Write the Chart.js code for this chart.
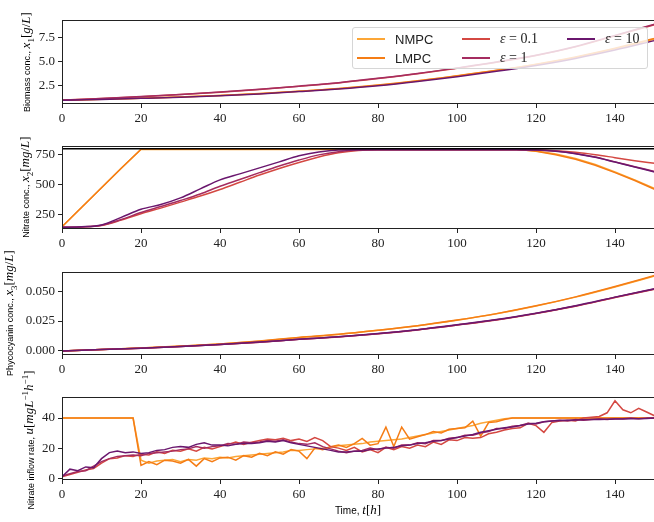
<!DOCTYPE html>
<html lang="en">
<head>
<meta charset="UTF-8">
<title>NMPC / LMPC comparison</title>
<script src="https://cdn.jsdelivr.net/npm/chart.js"></script>
<style>
  html, body { margin: 0; padding: 0; background: #fff; }
  #wrap { position: relative; width: 654px; height: 522px; overflow: hidden; }
  #wrap canvas { position: absolute; left: 0; }
  .ylab { position: absolute; white-space: nowrap; transform: translate(-50%, -50%) rotate(-90deg);
          font-family: "Liberation Sans", Arial, sans-serif; font-size: 9px; color: #000; }
  .m { font-family: "Liberation Serif", serif; font-size: 13px; }
  .m i { font-style: italic; }
  .m sub, .m sup { font-size: 9px; }
  #xlab { position: absolute; left: 358px; top: 510px; transform: translate(-50%, -50%);
          font-family: "Liberation Sans", Arial, sans-serif; font-size: 10px; white-space: nowrap; }
  #legend { position: absolute; left: 352px; top: 27px; width: 296px; height: 42px; box-sizing: border-box;
            background: rgba(255,255,255,0.8); border: 1px solid #d6d6d6; border-radius: 3px; }
  .li { position: absolute; height: 16px; display: flex; align-items: center;
        font-family: "Liberation Sans", Arial, sans-serif; font-size: 13px; color: #222; white-space: nowrap; }
  .li span.sw { display: inline-block; width: 28px; height: 2px; margin-right: 10px; }
  .li .m { font-size: 14px; }
</style>
</head>
<body>
<div id="wrap">
  <canvas id="c1" width="660" height="110" style="top:19px"></canvas>
  <canvas id="c2" width="660" height="109" style="top:145px"></canvas>
  <canvas id="c3" width="660" height="109" style="top:271px"></canvas>
  <canvas id="c4" width="660" height="109" style="top:396px"></canvas>

  <div class="ylab" style="left:27px; top:62px">Biomass conc., <span class="m"><i>x</i><sub>1</sub>[<i>g</i>/<i>L</i>]</span></div>
  <div class="ylab" style="left:26px; top:187px">Nitrate conc., <span class="m"><i>x</i><sub>2</sub>[<i>mg</i>/<i>L</i>]</span></div>
  <div class="ylab" style="left:10px; top:313px">Phycocyanin conc., <span class="m"><i>x</i><sub>3</sub>[<i>mg</i>/<i>L</i>]</span></div>
  <div class="ylab" style="left:29px; top:440px">Nitrate inflow rate, <span class="m"><i>u</i>[<i>mgL</i><sup>&minus;1</sup><i>h</i><sup>&minus;1</sup>]</span></div>
  <div id="xlab">Time, <span class="m"><i>t</i>[<i>h</i>]</span></div>

  <div id="legend">
    <div class="li" style="left:4px; top:3px"><span class="sw" style="background:#fca636"></span>NMPC</div>
    <div class="li" style="left:4px; top:22px"><span class="sw" style="background:#f57d15"></span>LMPC</div>
    <div class="li" style="left:109px; top:3px"><span class="sw" style="background:#d44842"></span><span class="m"><i>&epsilon;</i> = 0.1</span></div>
    <div class="li" style="left:109px; top:22px"><span class="sw" style="background:#a52c60"></span><span class="m"><i>&epsilon;</i> = 1</span></div>
    <div class="li" style="left:214px; top:3px"><span class="sw" style="background:#6a176e"></span><span class="m"><i>&epsilon;</i> = 10</span></div>
  </div>
</div>

<script>
// ---- data ----
const seriesNames = ['NMPC', 'LMPC', 'ε = 0.1', 'ε = 1', 'ε = 10'];
const seriesColors = ['#fca636', '#f57d15', '#d44842', '#a52c60', '#6a176e'];

const xTicks = [0, 20, 40, 60, 80, 100, 120, 140];

// biomass, sampled every 10 h
const t10 = [0, 10, 20, 30, 40, 50, 60, 70, 80, 90, 100, 110, 120, 130, 140, 150];
const x1NMPC = [1.0, 1.09, 1.2, 1.33, 1.48, 1.68, 1.92, 2.2, 2.55, 3.0, 3.52, 4.08, 4.72, 5.45, 6.35, 7.35];
const x1LMPC = [1.0, 1.09, 1.2, 1.33, 1.49, 1.69, 1.93, 2.21, 2.57, 3.02, 3.55, 4.11, 4.75, 5.5, 6.4, 7.42];
const x1Eps01 = [1.0, 1.17, 1.36, 1.58, 1.83, 2.12, 2.45, 2.8, 3.25, 3.75, 4.33, 4.95, 5.65, 6.55, 7.7, 8.85];
const x1Eps1 = [1.0, 1.17, 1.37, 1.59, 1.84, 2.13, 2.46, 2.82, 3.27, 3.77, 4.36, 4.98, 5.68, 6.6, 7.75, 8.9];
const x1Eps10 = [1.0, 1.08, 1.19, 1.31, 1.46, 1.65, 1.89, 2.16, 2.5, 2.94, 3.45, 4.0, 4.62, 5.35, 6.22, 7.2];
const y1Ticks = [2.5, 5.0, 7.5];

// nitrate, sampled every 5 h
const t5 = [0, 5, 10, 15, 20, 25, 30, 35, 40, 45, 50, 55, 60, 65, 70, 75, 80, 85, 90, 95, 100,
            105, 110, 115, 120, 125, 130, 135, 140, 145, 150];
const x2NMPC = [150, 312, 475, 637, 793, 793, 793, 793, 793, 793, 793, 793, 793, 793, 793, 793, 793, 793, 793, 793, 793,
                793, 793, 793, 780, 755, 718, 668, 606, 540, 468];
const x2LMPC = [150, 312, 475, 637, 795, 795, 795, 795, 795, 795, 795, 795, 795, 795, 795, 795, 795, 795, 795, 795, 795,
                795, 795, 795, 778, 750, 712, 662, 600, 535, 462];
const x2Eps01 = [145, 148, 160, 205, 258, 305, 355, 405, 460, 520, 580, 635, 685, 730, 765, 785, 790, 790, 790, 790, 790,
                 790, 790, 790, 788, 782, 770, 750, 725, 700, 678];
const x2Eps1 = [145, 148, 162, 210, 268, 318, 368, 422, 487, 543, 600, 655, 705, 748, 775, 788, 790, 790, 790, 790, 790,
                790, 790, 790, 788, 780, 760, 730, 690, 650, 610];
const x2Eps10 = [145, 149, 165, 228, 295, 335, 390, 465, 540, 590, 640, 690, 740, 772, 788, 790, 790, 790, 790, 790, 790,
                 790, 790, 790, 788, 778, 758, 728, 688, 648, 605];
const x2Limit = 800;
const y2Ticks = [250, 500, 750];

// phycocyanin, sampled every 10 h
const x3NMPC = [0, 0.0012, 0.0025, 0.004, 0.0058, 0.0082, 0.0112, 0.0138, 0.0172, 0.021, 0.0256, 0.031, 0.0375, 0.045, 0.0535, 0.0626];
const x3LMPC = [0, 0.0012, 0.0025, 0.0041, 0.0059, 0.0083, 0.0113, 0.0139, 0.0173, 0.0211, 0.0258, 0.0312, 0.0377, 0.0452, 0.0538, 0.063];
const x3Eps01 = [0, 0.0011, 0.0023, 0.0037, 0.0053, 0.0073, 0.0097, 0.0117, 0.0143, 0.0176, 0.0216, 0.0259, 0.0313, 0.0374, 0.0446, 0.0515];
const x3Eps1 = [0, 0.0011, 0.0023, 0.0037, 0.0053, 0.0073, 0.0097, 0.0118, 0.0144, 0.0177, 0.0217, 0.026, 0.0314, 0.0375, 0.0448, 0.0518];
const x3Eps10 = [0, 0.0011, 0.0023, 0.0037, 0.0054, 0.0074, 0.0098, 0.0118, 0.0145, 0.0178, 0.0218, 0.0262, 0.0316, 0.0378, 0.045, 0.052];
const y3Ticks = [0.000, 0.025, 0.050];

// nitrate inflow rate, sampled every 2 h
const t2 = [0, 2, 4, 6, 8, 10, 12, 14, 16, 18, 20, 22, 24, 26, 28, 30, 32, 34, 36, 38,
            40, 42, 44, 46, 48, 50, 52, 54, 56, 58, 60, 62, 64, 66, 68, 70, 72, 74, 76, 78,
            80, 82, 84, 86, 88, 90, 92, 94, 96, 98, 100, 102, 104, 106, 108, 110, 112, 114, 116, 118,
            120, 122, 124, 126, 128, 130, 132, 134, 136, 138, 140, 142, 144, 146, 148, 150];
const uNMPC = [40, 40, 40, 40, 40, 40, 40, 40, 40, 40,
               12, 10, 11.5, 12, 12.5, 11, 12.5, 12, 13.5, 13,
               14, 13.5, 14.5, 15, 15.5, 16, 16.5, 17, 17.5, 18.5,
               18.5, 19, 19.5, 20, 20.5, 21.5, 22, 22.5, 23, 24,
               24.5, 25, 25.5, 26, 27, 28, 29, 30, 31, 32,
               33, 34, 35, 36.5, 37.5, 38.5, 39.5, 40, 40, 40,
               40, 40, 40, 40, 40, 40, 40, 40, 40, 40,
               40, 40, 40, 40, 40, 40];
const uLMPC = [40, 40, 40, 40, 40, 40, 40, 40, 40, 40,
               8.5, 11, 9, 12, 11.5, 10, 12.5, 8, 13, 11,
               13.5, 14, 12, 15, 14, 16.5, 15, 17.5, 16, 19,
               18, 13, 20, 19, 21, 22, 20.5, 23, 26.5, 22,
               23, 34, 21, 34, 26, 27.5, 29, 31, 30, 32.5,
               33, 33.5, 38, 28, 37, 37.5, 39, 40, 40, 40,
               40, 40, 40, 40, 40, 40, 40, 40, 40, 40,
               40, 40, 40, 40, 40, 40];
const uEps01 = [1, 2.5, 4, 5.5, 6.5, 10, 13, 13.5, 15, 14.5,
                16, 15.5, 17.5, 16.5, 18.5, 18, 19.5, 18, 20.5, 19.5,
                21, 22.5, 24, 22.5, 24, 25, 26, 25.5, 26.5, 25,
                26, 24.5, 27, 25, 21, 20, 18.5, 20.5, 17.5, 19,
                17, 20.5, 19, 21, 20, 22, 21, 24, 22.5, 25.5,
                25, 27, 26.5, 27, 29.5, 30.5, 32, 33, 33.5, 36.5,
                35, 30.5, 37, 38, 38.5, 38, 40, 40.5, 41, 43.5,
                51.5, 45.5, 43.5, 46.5, 44, 41.5];
const uEps1 = [1.5, 3, 4.5, 5, 8, 11, 13, 14.5, 15, 15.5,
               15, 16.5, 17, 17.5, 18, 19, 19.5, 21, 20, 21,
               21.5, 23, 22.5, 24, 23.5, 24, 25, 24.5, 25.5, 24,
               23, 22.5, 23.5, 21, 19.5, 18, 17, 18, 18.5, 20,
               19, 20.5, 20, 22, 22, 23.5, 23, 25, 25, 26.5,
               27, 28.5, 28.5, 30, 31, 33, 33, 34.5, 35, 36.5,
               36, 37.5, 38, 38.5, 38, 39, 38.5, 39, 39.5, 39,
               39.5, 39.5, 40, 39.5, 40, 40];
const uEps10 = [1, 6, 5, 7.5, 7, 13, 17, 18, 17, 17.5,
                16.5, 17, 18.5, 19, 20.5, 21, 20.5, 22.5, 23.5, 22,
                22, 21.5, 22.5, 23, 23, 23.5, 24.5, 24, 25, 23.5,
                22.5, 21.5, 20.5, 19.5, 18.5, 17.5, 17.5, 18, 18, 19,
                19.5, 20, 20.5, 21.5, 22, 23, 23.5, 24.5, 25, 26,
                27, 28, 29, 30.5, 31.5, 32.5, 33.5, 34, 35, 36,
                36.5, 37.5, 38, 38.3, 38.5, 38.7, 38.8, 39, 39, 39.2,
                39.3, 39.4, 39.5, 39.6, 39.7, 40];
const y4Ticks = [0, 20, 40];

// ---- helpers ----
const pts = (ts, vs) => ts.map((t, i) => ({ x: t, y: vs[i] }));

// later series are drawn on top (higher order = drawn earlier)
function lines(ts, arrays, smooth) {
  return arrays.map((vs, i) => ({
    label: seriesNames[i],
    data: pts(ts, vs),
    borderColor: seriesColors[i],
    borderWidth: 1.5,
    pointRadius: 0,
    fill: false,
    order: arrays.length - i,
    cubicInterpolationMode: smooth ? 'monotone' : 'default',
    tension: 0
  }));
}

// draw full box like matplotlib spines, snapped to whole pixels
const boxPlugin = {
  id: 'box',
  afterDraw(chart) {
    const a = chart.chartArea, c = chart.ctx;
    const l = Math.round(a.left) + 0.5, t = Math.round(a.top) + 0.5;
    const r = Math.round(a.right) - 0.5, b = Math.round(a.bottom) - 0.5;
    c.save();
    c.strokeStyle = '#222';
    c.lineWidth = 1;
    c.strokeRect(l, t, r - l, b - t);
    c.restore();
  }
};

function panel(id, datasets, yMin, yMax, yTicks, yFmt) {
  return new Chart(document.getElementById(id), {
    type: 'line',
    data: { datasets: datasets },
    options: {
      responsive: false,
      animation: false,
      layout: { autoPadding: false, padding: { top: 1, right: 5.5, left: 0, bottom: 0 } },
      plugins: { legend: { display: false }, tooltip: { enabled: false } },
      scales: {
        x: {
          type: 'linear', min: 0, max: 150,
          afterBuildTicks: s => { s.ticks = xTicks.map(v => ({ value: v })); },
          afterFit: s => { s.height = 25; s.paddingLeft = 0; s.paddingRight = 0; },
          grid: { drawOnChartArea: false, tickLength: 4, color: '#222' },
          border: { display: false },
          ticks: { color: '#222', padding: 3, maxRotation: 0, autoSkip: false,
                   font: { family: 'Liberation Serif', size: 13 } }
        },
        y: {
          type: 'linear', min: yMin, max: yMax,
          afterBuildTicks: s => { s.ticks = yTicks.map(v => ({ value: v })); },
          afterFit: s => { s.width = 62; s.paddingTop = 0; s.paddingBottom = 0; },
          grid: { drawOnChartArea: false, tickLength: 4, color: '#222' },
          border: { display: false },
          ticks: { color: '#222', padding: 3, autoSkip: false,
                   font: { family: 'Liberation Serif', size: 13 },
                   callback: v => yFmt(v) }
        }
      }
    },
    plugins: [boxPlugin]
  });
}

panel('c1', lines(t10, [x1NMPC, x1LMPC, x1Eps01, x1Eps1, x1Eps10], true),
      0.6, 9.35, y1Ticks, v => v.toFixed(1));

const ds2 = lines(t5, [x2NMPC, x2LMPC, x2Eps01, x2Eps1, x2Eps10], true);
// the MPC ramps are straight up to the limit
ds2[0].cubicInterpolationMode = 'default';
ds2[1].cubicInterpolationMode = 'default';
ds2.push({ label: 'limit', data: [{ x: 0, y: x2Limit }, { x: 150, y: x2Limit }],
           borderColor: '#000', borderWidth: 1.5, pointRadius: 0, order: 0 });
panel('c2', ds2, 131, 822, y2Ticks, v => String(v));

panel('c3', lines(t10, [x3NMPC, x3LMPC, x3Eps01, x3Eps1, x3Eps10], true),
      -0.0034, 0.066, y3Ticks, v => v.toFixed(3));

panel('c4', lines(t2, [uNMPC, uLMPC, uEps01, uEps1, uEps10], false),
      -1.2, 54, y4Ticks, v => String(v));
</script>
</body>
</html>
